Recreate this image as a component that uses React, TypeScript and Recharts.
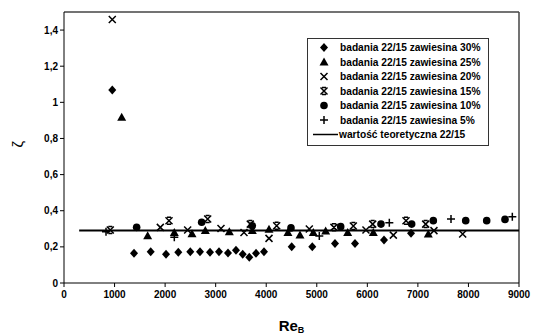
import React from 'react';
import {
  Label,
  Legend,
  ReferenceLine,
  Scatter,
  ScatterChart,
  XAxis,
  YAxis,
} from 'recharts';

type Pt = { x: number; y: number };

// badania 22/15, values
const s30: Pt[] = [
  { x: 955, y: 1.068 }, { x: 1385, y: 0.164 }, { x: 1715, y: 0.173 }, { x: 2018, y: 0.159 },
  { x: 2261, y: 0.17 }, { x: 2498, y: 0.173 }, { x: 2690, y: 0.173 }, { x: 2888, y: 0.17 },
  { x: 3066, y: 0.173 }, { x: 3244, y: 0.166 }, { x: 3402, y: 0.181 }, { x: 3535, y: 0.159 },
  { x: 3665, y: 0.142 }, { x: 3798, y: 0.164 }, { x: 3956, y: 0.173 }, { x: 4504, y: 0.201 },
  { x: 4911, y: 0.201 }, { x: 5360, y: 0.218 }, { x: 5756, y: 0.218 }, { x: 6330, y: 0.238 },
  { x: 6864, y: 0.275 },
];
const s25: Pt[] = [
  { x: 1141, y: 0.917 }, { x: 1655, y: 0.262 }, { x: 2182, y: 0.28 }, { x: 2532, y: 0.273 },
  { x: 2795, y: 0.29 }, { x: 3270, y: 0.284 }, { x: 3725, y: 0.29 }, { x: 4055, y: 0.297 },
  { x: 4430, y: 0.28 }, { x: 4668, y: 0.265 }, { x: 4931, y: 0.28 }, { x: 5176, y: 0.288 },
  { x: 5611, y: 0.28 }, { x: 6118, y: 0.28 }, { x: 7206, y: 0.271 },
];
const s20: Pt[] = [
  { x: 955, y: 1.458 }, { x: 1905, y: 0.308 }, { x: 2446, y: 0.293 }, { x: 3105, y: 0.302 },
  { x: 3560, y: 0.28 }, { x: 4055, y: 0.247 }, { x: 4852, y: 0.299 }, { x: 5973, y: 0.293 },
  { x: 6514, y: 0.265 }, { x: 7318, y: 0.29 }, { x: 7886, y: 0.271 },
];
const s15: Pt[] = [
  { x: 916, y: 0.293 }, { x: 2077, y: 0.345 }, { x: 2842, y: 0.354 }, { x: 3685, y: 0.326 },
  { x: 4207, y: 0.317 }, { x: 5340, y: 0.308 }, { x: 5723, y: 0.315 }, { x: 6106, y: 0.326 },
  { x: 6765, y: 0.345 }, { x: 7154, y: 0.326 },
];
const s10: Pt[] = [
  { x: 1437, y: 0.308 }, { x: 2723, y: 0.336 }, { x: 3725, y: 0.317 }, { x: 4490, y: 0.305 },
  { x: 5473, y: 0.312 }, { x: 6270, y: 0.326 }, { x: 6877, y: 0.326 }, { x: 7305, y: 0.345 },
  { x: 7946, y: 0.345 }, { x: 8361, y: 0.345 }, { x: 8723, y: 0.352 },
];
const s5: Pt[] = [
  { x: 831, y: 0.284 }, { x: 2182, y: 0.253 }, { x: 5050, y: 0.26 }, { x: 6435, y: 0.334 },
  { x: 7655, y: 0.354 }, { x: 8868, y: 0.367 },
];
const theory: Pt[] = [
  { x: 300, y: 0.29 },
  { x: 9000, y: 0.29 },
];

const xTicks = [0, 1000, 2000, 3000, 4000, 5000, 6000, 7000, 8000, 9000];
const yTicks = [0, 0.2, 0.4, 0.6, 0.8, 1, 1.2, 1.4];

const FONT = '"Liberation Sans", Arial, sans-serif';

type Kind = 'diamond' | 'triangle' | 'x' | 'star' | 'circle' | 'plus' | 'line';

function Marker({ kind, cx, cy }: { kind: Kind; cx: number; cy: number }) {
  switch (kind) {
    case 'diamond':
      return <polygon points={`${cx},${cy - 4.5} ${cx + 4},${cy} ${cx},${cy + 4.5} ${cx - 4},${cy}`} fill="#000" />;
    case 'triangle':
      return <polygon points={`${cx},${cy - 4.5} ${cx + 4.5},${cy + 3.5} ${cx - 4.5},${cy + 3.5}`} fill="#000" />;
    case 'x':
      return (
        <path d={`M${cx - 3.5},${cy - 3.5}L${cx + 3.5},${cy + 3.5}M${cx + 3.5},${cy - 3.5}L${cx - 3.5},${cy + 3.5}`} stroke="#000" strokeWidth={1.5} />
      );
    case 'star':
      return (
        <path
          d={`M${cx - 3.5},${cy - 3.5}L${cx + 3.5},${cy + 3.5}M${cx + 3.5},${cy - 3.5}L${cx - 3.5},${cy + 3.5}M${cx - 2},${cy - 3.5}H${cx + 2}M${cx - 2},${cy + 3.5}H${cx + 2}`}
          stroke="#000"
          strokeWidth={1.5}
        />
      );
    case 'circle':
      return <circle cx={cx} cy={cy} r={3.8} fill="#000" />;
    case 'plus':
      return <path d={`M${cx - 4},${cy}H${cx + 4}M${cx},${cy - 4}V${cy + 4}`} stroke="#000" strokeWidth={1.5} />;
    default:
      return null;
  }
}

const shapeOf = (kind: Kind) => (props: any) => <Marker kind={kind} cx={props.cx} cy={props.cy} />;

const legendRows: { kind: Kind; name: string }[] = [
  { kind: 'diamond', name: 'badania 22/15 zawiesina 30%' },
  { kind: 'triangle', name: 'badania 22/15 zawiesina 25%' },
  { kind: 'x', name: 'badania 22/15 zawiesina 20%' },
  { kind: 'star', name: 'badania 22/15 zawiesina 15%' },
  { kind: 'circle', name: 'badania 22/15 zawiesina 10%' },
  { kind: 'plus', name: 'badania 22/15 zawiesina 5%' },
  { kind: 'line', name: 'wartość teoretyczna 22/15' },
];

function LegendBox() {
  return (
    <svg width={182} height={108} style={{ display: 'block' }}>
      <rect x={0.5} y={0.5} width={181} height={107} fill="#fff" stroke="#333" />
      {legendRows.map((r, i) => {
        const cy = 9.5 + i * 14.5;
        return (
          <g key={r.name}>
            {r.kind === 'line' ? (
              <line x1={6} x2={31} y1={cy} y2={cy} stroke="#000" strokeWidth={1.5} />
            ) : (
              <Marker kind={r.kind} cx={17} cy={cy} />
            )}
            <text
              x={r.kind === 'line' ? 32 : 33}
              y={cy + 3.5}
              fontFamily={FONT}
              fontWeight="bold"
              fontSize={10.2}
              fill="#000"
            >
              {r.name}
            </text>
          </g>
        );
      })}
    </svg>
  );
}

const fmtY = (v: number) => String(v).replace('.', ',');

function XLabel(props: any) {
  const vb = props.viewBox;
  const cx = vb.x + vb.width / 2;
  return (
    <text x={cx} y={331} textAnchor="middle" fontFamily={FONT} fontWeight="bold" fill="#000">
      <tspan fontSize={15}>Re</tspan>
      <tspan fontSize={9} dy={2}>B</tspan>
    </text>
  );
}

export default function App() {
  return (
    <div style={{ position: 'absolute', left: 0, top: 0, width: 533, height: 335, background: '#fff' }}>
      <ScatterChart width={533} height={335} margin={{ top: 12, right: 14, bottom: 16, left: 24 }}>
        <XAxis
          type="number"
          dataKey="x"
          domain={[0, 9000]}
          ticks={xTicks}
          interval={0}
          height={36}
          stroke="#000"
          tickSize={4}
          tick={{ fontFamily: FONT, fontWeight: 'bold', fontSize: 10, fill: '#000' }}
          tickMargin={4}
          label={<XLabel />}
        />
        <YAxis
          type="number"
          dataKey="y"
          domain={[0, 1.5]}
          ticks={yTicks}
          interval={0}
          width={40}
          stroke="#000"
          tickSize={4}
          tickFormatter={fmtY}
          tick={{ fontFamily: FONT, fontWeight: 'bold', fontSize: 10, fill: '#000' }}
        >
          <Label
            value="ζ"
            angle={-90}
            position="insideLeft"
            offset={-6}
            style={{ fontFamily: FONT, fontSize: 15, fill: '#000' }}
          />
        </YAxis>
        <ReferenceLine y={1.5} stroke="#444" strokeWidth={1.5} />
        <ReferenceLine x={9000} stroke="#444" strokeWidth={1.5} />
        <Scatter data={theory} line={{ stroke: '#000', strokeWidth: 2 }} shape={() => null} isAnimationActive={false} legendType="none" />
        <Scatter data={s30} shape={shapeOf('diamond')} isAnimationActive={false} />
        <Scatter data={s25} shape={shapeOf('triangle')} isAnimationActive={false} />
        <Scatter data={s20} shape={shapeOf('x')} isAnimationActive={false} />
        <Scatter data={s15} shape={shapeOf('star')} isAnimationActive={false} />
        <Scatter data={s10} shape={shapeOf('circle')} isAnimationActive={false} />
        <Scatter data={s5} shape={shapeOf('plus')} isAnimationActive={false} />
        <Legend
          layout="vertical"
          align="center"
          verticalAlign="middle"
          content={() => <LegendBox />}
          wrapperStyle={{ position: 'absolute', left: 307, top: 38, width: 182, height: 108 }}
        />
      </ScatterChart>
    </div>
  );
}
